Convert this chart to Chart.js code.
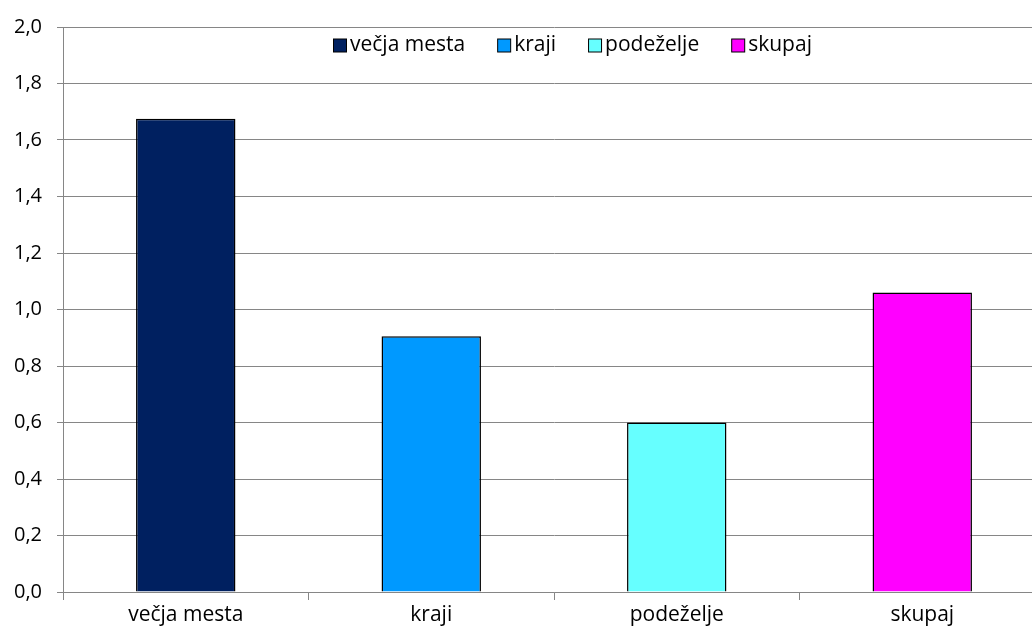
<!DOCTYPE html>
<html>
<head>
<meta charset="utf-8">
<script src="https://cdn.jsdelivr.net/npm/chart.js@4/dist/chart.umd.min.js"></script>
<style>
  html,body{margin:0;padding:0;background:#fff;overflow:hidden;}
  #wrap{width:1032px;height:635px;position:relative;overflow:hidden;}
  #c{position:absolute;left:0;top:0;}
</style>
</head>
<body>
<div id="wrap"><canvas id="c" width="1045" height="635"></canvas></div>
<script>
const categories = ["večja mesta", "kraji", "podeželje", "skupaj"];
const values = [1.675, 0.905, 0.600, 1.060];
const barColors = ["#002060", "#0099FF", "#66FFFF", "#FF00FF"];
const yTicks = [0, 0.2, 0.4, 0.6, 0.8, 1.0, 1.2, 1.4, 1.6, 1.8, 2.0];

const FONT = "'Open Sans', Lato, sans-serif";
const GRID = "#868686";

const legendPlugin = {
  id: "customLegend",
  afterDraw(chart, args, opts) {
    const ctx = chart.ctx;
    ctx.save();
    ctx.font = "21px " + FONT;
    ctx.textBaseline = "middle";
    let x = opts.left;
    const y = opts.y;
    const box = 13;
    categories.forEach((lab, i) => {
      ctx.fillStyle = barColors[i];
      ctx.fillRect(x + 0.5, y - box / 2 + 0.5, box, box);
      ctx.strokeStyle = "#000";
      ctx.lineWidth = 1;
      ctx.strokeRect(x + 0.5, y - box / 2 + 0.5, box, box);
      x += box + 4;
      ctx.fillStyle = "#000";
      ctx.fillText(lab, x, y);
      x += ctx.measureText(lab).width + 32;
    });
    ctx.restore();
  }
};

new Chart(document.getElementById("c"), {
  type: "bar",
  data: {
    labels: categories,
    datasets: [{
      data: values,
      backgroundColor: barColors,
      borderColor: "#000",
      borderWidth: 1.5,
      borderSkipped: "bottom",
      categoryPercentage: 1,
      barPercentage: 0.405
    }]
  },
  options: {
    responsive: false,
    animation: false,
    devicePixelRatio: 1,
    layout: { padding: { top: 25, right: 0, bottom: 0, left: 0 } },
    plugins: {
      legend: { display: false },
      tooltip: { enabled: false },
      customLegend: { left: 333, y: 45 }
    },
    scales: {
      x: {
        offset: true,
        grid: {
          offset: true,
          drawOnChartArea: false,
          drawTicks: true,
          tickLength: 8,
          color: GRID
        },
        border: { color: GRID, width: 1 },
        ticks: { color: "#000", font: { family: FONT, size: 21 }, padding: 2, maxRotation: 0 },
        afterFit(s) { s.height = 43; }
      },
      y: {
        min: 0,
        max: 2,
        afterBuildTicks(s) { s.ticks = yTicks.map(v => ({ value: v })); },
        grid: { color: GRID, tickLength: 6, drawTicks: true },
        border: { color: GRID, width: 1 },
        ticks: {
          color: "#000",
          font: { family: FONT, size: 20 },
          padding: 15,
          callback: v => Number(v).toFixed(1).replace(".", ",")
        },
        afterFit(s) { s.width = 63; }
      }
    }
  },
  plugins: [legendPlugin]
});
</script>
</body>
</html>
